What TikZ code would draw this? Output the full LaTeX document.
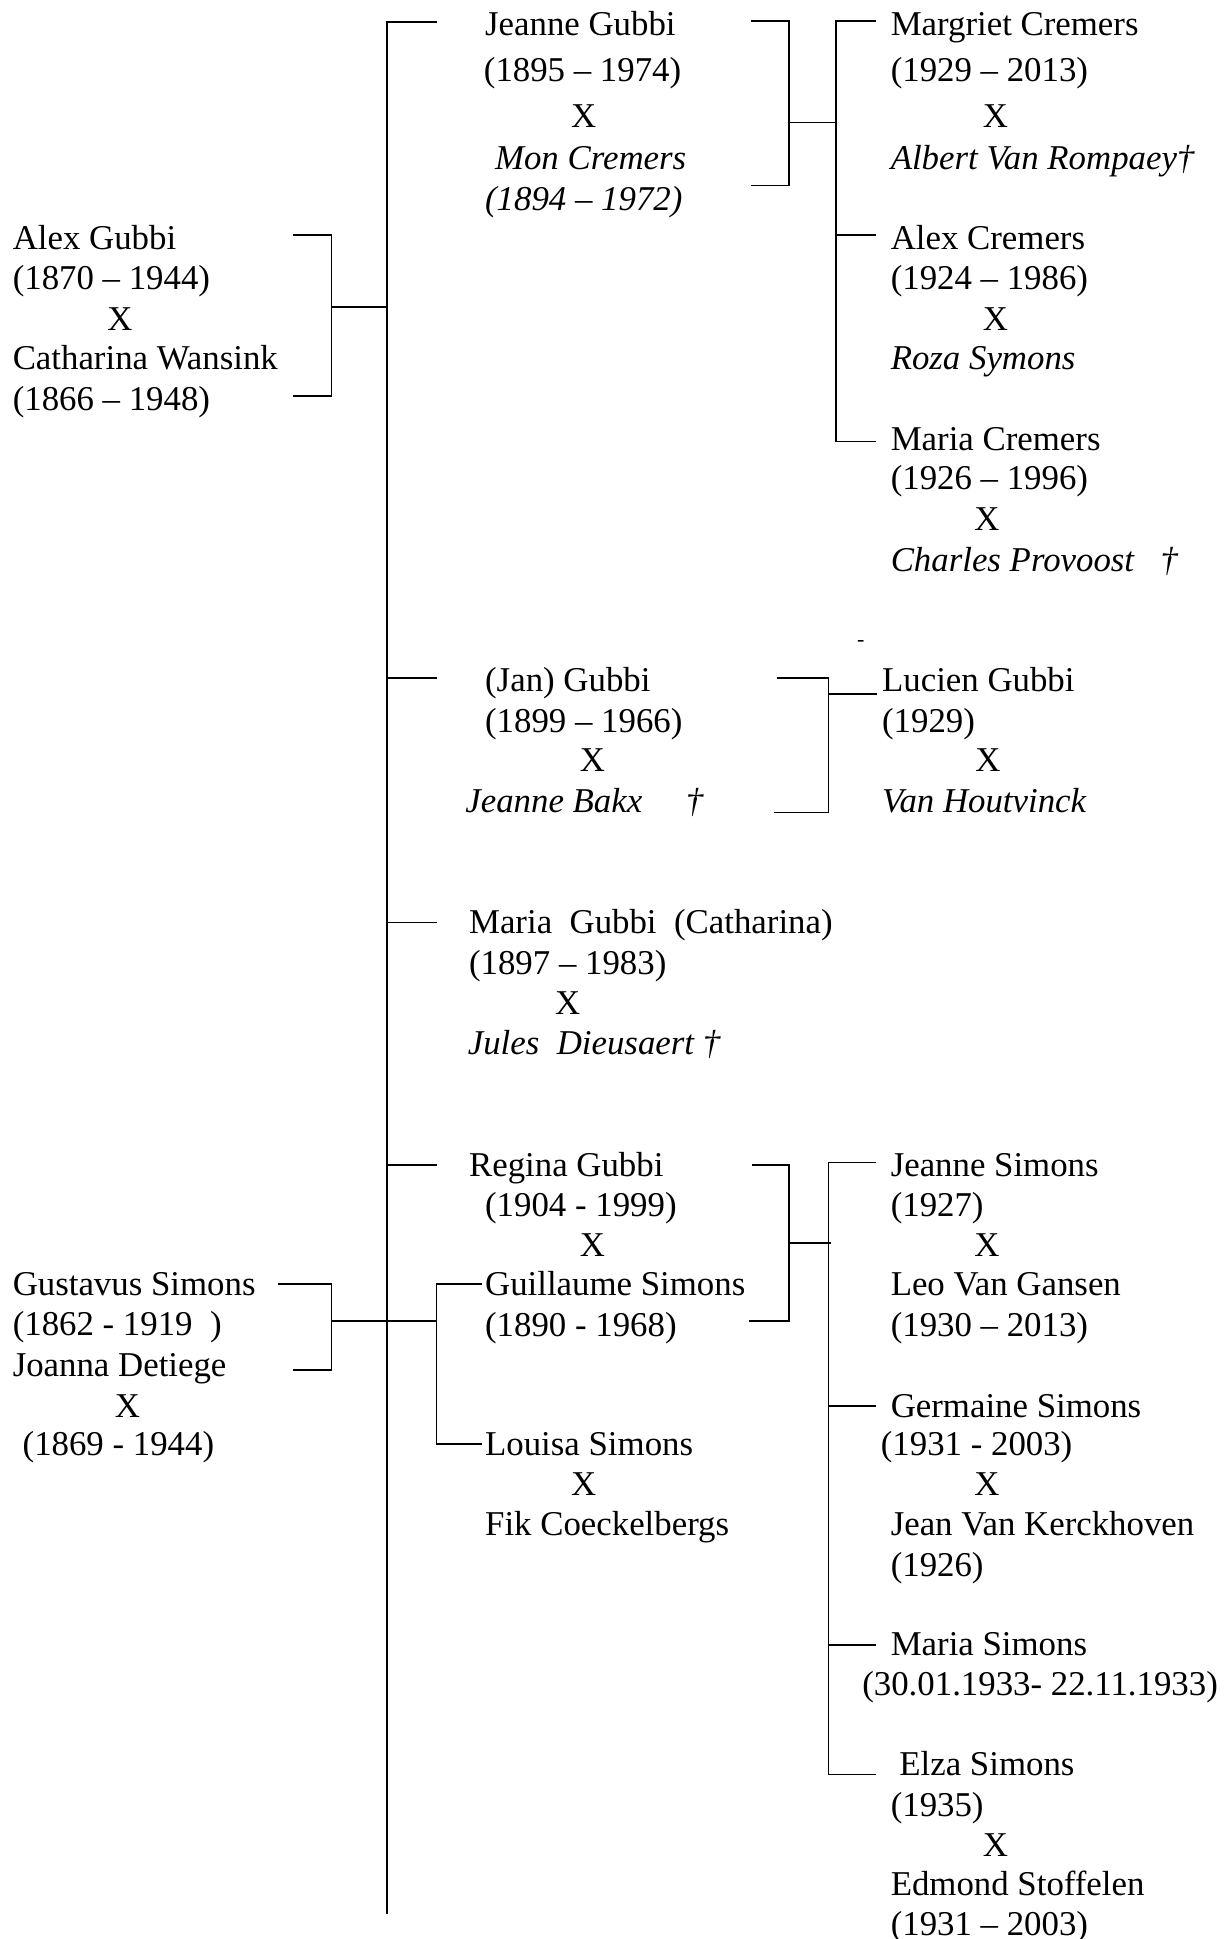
\documentclass[tikz,border=0pt]{standalone}
\usepackage{fontspec}
\setmainfont{Liberation Serif}
\usepackage{tikz}

\tikzset{
  person/.style={anchor=base west, inner sep=0pt, font=\fontsize{17.4}{20}\selectfont},
  partner/.style={person, font=\fontsize{17.4}{20}\selectfont\itshape},
  wed/.style={anchor=base, inner sep=0pt, font=\fontsize{17.4}{20}\selectfont},
  link/.style={line width=0.9pt}
}

\begin{document}
\begin{tikzpicture}[x=0.618pt,y=-0.618pt]
        \useasboundingbox (0,0) rectangle (991,1568);
        % Alex Gubbi x Catharina Wansink
        \node[person] (ag1) at (10,202) {Alex Gubbi};
        \node[person] (ag2) at (10,234) {(1870 – 1944)};
        \node[wed] (agx) at (97,267) {X};
        \node[person] (ag3) at (10,299) {Catharina Wansink};
        \node[person] (ag4) at (10,332) {(1866 – 1948)};
        % Gustavus Simons x Joanna Detiege
        \node[person] (gs1) at (10,1048) {Gustavus Simons};
        \node[person] (gs2) at (10,1080) {(1862 - 1919~~)};
        \node[person] (gs3) at (10,1113) {Joanna Detiege};
        \node[wed] (gsx) at (103,1146) {X};
        \node[person] (gs4) at (18,1177) {(1869 - 1944)};
        % children
        \node[person] (jg1) at (392,29) {Jeanne Gubbi};
        \node[person] (jg2) at (391,66) {(1895 – 1974)};
        \node[wed] (jgx) at (472,103) {X};
        \node[partner] (jg3) at (400,137) {Mon Cremers};
        \node[partner] (jg4) at (392,170) {(1894 – 1972)};
        \node[person] (jn1) at (392,559) {(Jan) Gubbi};
        \node[person] (jn2) at (392,592) {(1899 – 1966)};
        \node[wed] (jnx) at (479,624) {X};
        \node[partner] (jn3) at (376,657) {Jeanne Bakx\hspace{1.25em}†};
        \node[person] (mg1) at (379,755) {Maria~ Gubbi~ (Catharina)};
        \node[person] (mg2) at (379,788) {(1897 – 1983)};
        \node[wed] (mgx) at (459,820) {X};
        \node[partner] (mg3) at (378,853) {Jules~ Dieusaert †};
        \node[person] (rg1) at (379,951) {Regina Gubbi};
        \node[person] (rg2) at (392,984) {(1904 - 1999)};
        \node[wed] (rgx) at (479,1016) {X};
        \node[person] (rg3) at (392,1048) {Guillaume Simons};
        \node[person] (rg4) at (392,1081) {(1890 - 1968)};
        \node[person] (ls1) at (392,1177) {Louisa Simons};
        \node[wed] (lsx) at (472,1209) {X};
        \node[person] (ls2) at (392,1242) {Fik Coeckelbergs};
        % grandchildren
        \node[person] (mc1) at (720,29) {Margriet Cremers};
        \node[person] (mc2) at (720,66) {(1929 – 2013)};
        \node[wed] (mcx) at (805,103) {X};
        \node[partner] (mc3) at (720,137) {Albert Van Rompaey†};
        \node[person] (ac1) at (720,202) {Alex Cremers};
        \node[person] (ac2) at (720,234) {(1924 – 1986)};
        \node[wed] (acx) at (805,267) {X};
        \node[partner] (ac3) at (720,299) {Roza Symons};
        \node[person] (mr1) at (720,364) {Maria Cremers};
        \node[person] (mr2) at (720,396) {(1926 – 1996)};
        \node[wed] (mrx) at (798,429) {X};
        \node[partner] (mr3) at (720,462) {Charles Provoost~~~†};
        \node[anchor=base, inner sep=0pt, font=\fontsize{11}{12}\selectfont] (dash) at (696,523) {-};
        \node[person] (lg1) at (713,559) {Lucien Gubbi};
        \node[person] (lg2) at (713,592) {(1929)};
        \node[wed] (lgx) at (799,624) {X};
        \node[partner] (lg3) at (713,657) {Van Houtvinck};
        \node[person] (js1) at (720,951) {Jeanne Simons};
        \node[person] (js2) at (720,984) {(1927)};
        \node[wed] (jsx) at (798,1016) {X};
        \node[person] (js3) at (720,1048) {Leo Van Gansen};
        \node[person] (js4) at (720,1081) {(1930 – 2013)};
        \node[person] (gm1) at (720,1146) {Germaine Simons};
        \node[person] (gm2) at (712,1177) {(1931 - 2003)};
        \node[wed] (gmx) at (798,1209) {X};
        \node[person] (gm3) at (720,1242) {Jean Van Kerckhoven};
        \node[person] (gm4) at (720,1275) {(1926)};
        \node[person] (ms1) at (720,1339) {Maria Simons};
        \node[person] (ms2) at (697,1371) {(30.01.1933- 22.11.1933)};
        \node[person] (es1) at (727,1436) {Elza Simons};
        \node[person] (es2) at (720,1469) {(1935)};
        \node[wed] (esx) at (805,1501) {X};
        \node[person] (es3) at (720,1533) {Edmond Stoffelen};
        \node[person] (es4) at (720,1565) {(1931 – 2003)};
        % junction points
        \coordinate (trunkTop) at (313,18);
        \coordinate (trunkBot) at (313,1548);
        \coordinate (agT) at (237,190);
        \coordinate (agM) at (268,248);
        \coordinate (agB) at (237,320);
        \coordinate (agJ) at (313,248);
        \coordinate (gsT) at (225,1038);
        \coordinate (gsM) at (268,1068);
        \coordinate (gsB) at (237,1108);
        \coordinate (sbM) at (353,1068);
        \coordinate (sbT) at (390,1038);
        \coordinate (sbB) at (390,1168);
        \coordinate (br1) at (353,18);
        \coordinate (br2s) at (313,548);
        \coordinate (br2) at (353,548);
        \coordinate (br3s) at (313,746);
        \coordinate (br3) at (353,746);
        \coordinate (br4s) at (313,942);
        \coordinate (br4) at (353,942);
        \coordinate (jgT) at (607,17);
        \coordinate (jgM) at (638,99);
        \coordinate (jgB) at (607,150);
        \coordinate (cmJ) at (676,99);
        \coordinate (cmTop) at (676,17);
        \coordinate (cmMid) at (676,190);
        \coordinate (cmBot) at (676,357);
        \coordinate (mcE) at (708,17);
        \coordinate (acE) at (708,190);
        \coordinate (mrE) at (708,357);
        \coordinate (jnT) at (628,548);
        \coordinate (jnM) at (670,561);
        \coordinate (jnB) at (626,657);
        \coordinate (lgE) at (709,561);
        \coordinate (rgT) at (608,942);
        \coordinate (rgM) at (638,1005);
        \coordinate (rgB) at (606,1068);
        \coordinate (smJ) at (672,1005);
        \coordinate (smTop) at (670,940);
        \coordinate (smGm) at (670,1137);
        \coordinate (smMs) at (670,1330);
        \coordinate (smBot) at (670,1435);
        \coordinate (jsE) at (708,940);
        \coordinate (gmE) at (708,1137);
        \coordinate (msE) at (708,1330);
        \coordinate (esE) at (708,1435);
        % lines
        \draw[link] (br1) -- (trunkTop) -- (trunkBot);
        \draw[link] (br2s) -- (br2);
        \draw[link] (br3s) -- (br3);
        \draw[link] (br4s) -- (br4);
        \draw[link] (agT) -| (agM) |- (agB);
        \draw[link] (agM) -- (agJ);
        \draw[link] (gsT) -| (gsM) |- (gsB);
        \draw[link] (gsM) -- (sbM);
        \draw[link] (sbT) -| (sbM) |- (sbB);
        \draw[link] (jgT) -| (jgM) |- (jgB);
        \draw[link] (jgM) -- (cmJ);
        \draw[link] (mcE) -- (cmTop) -- (cmBot) -- (mrE);
        \draw[link] (cmMid) -- (acE);
        \draw[link] (jnT) -| (jnM) |- (jnB);
        \draw[link] (jnM) -- (lgE);
        \draw[link] (rgT) -| (rgM) |- (rgB);
        \draw[link] (rgM) -- (smJ);
        \draw[link] (jsE) -- (smTop) -- (smBot) -- (esE);
        \draw[link] (smGm) -- (gmE);
        \draw[link] (smMs) -- (msE);
\end{tikzpicture}
\end{document}
